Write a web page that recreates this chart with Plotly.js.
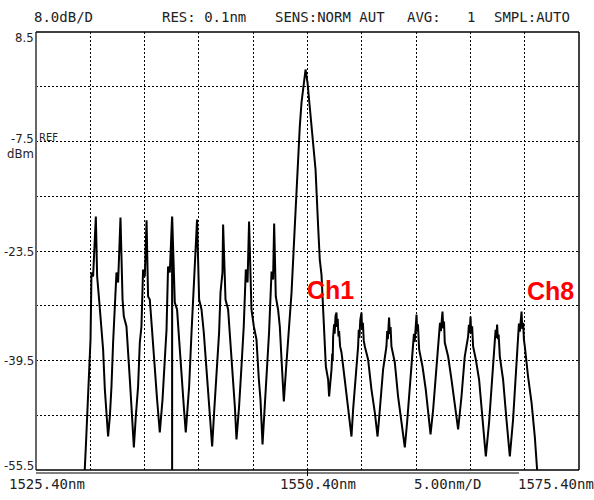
<!DOCTYPE html>
<html>
<head>
<meta charset="utf-8">
<script src="https://cdn.plot.ly/plotly-3.0.1.min.js"></script>
<style>
  html, body { margin: 0; padding: 0; background: #fff; }
  #chart { width: 594px; height: 500px; }
</style>
</head>
<body>
<div id="chart"></div>
<script>
const wavelength_nm = [
  1529.80, 1529.89, 1529.99, 1530.11, 1530.29, 1530.42, 1530.51, 1530.66, 1530.91, 1531.03,
  1531.21, 1531.43, 1531.58, 1531.74, 1531.89, 1532.04, 1532.20, 1532.35, 1532.50, 1532.66,
  1532.81, 1532.96, 1533.18, 1533.37, 1533.49, 1533.73, 1533.88, 1534.04, 1534.19, 1534.41,
  1534.59, 1534.80, 1534.96, 1535.11, 1535.26, 1535.42, 1535.58, 1535.72, 1535.88, 1536.13,
  1536.34, 1536.55, 1536.80, 1537.05, 1537.26, 1537.42, 1537.56, 1537.72, 1537.93, 1537.935,
  1537.94, 1538.18, 1538.39, 1538.58, 1538.80, 1539.01, 1539.19, 1539.31, 1539.50, 1539.72,
  1539.87, 1540.02, 1540.23, 1540.42, 1540.64, 1540.85, 1541.10, 1541.34, 1541.62, 1541.80,
  1542.02, 1542.26, 1542.39, 1542.57, 1542.63, 1542.85, 1543.09, 1543.31, 1543.49, 1543.71,
  1543.86, 1544.10, 1544.32, 1544.53, 1544.72, 1544.88, 1545.02, 1545.24, 1545.46, 1545.70,
  1545.92, 1546.07, 1546.26, 1546.47, 1546.68, 1546.86, 1547.09, 1547.23, 1547.33, 1547.48,
  1547.69, 1547.85, 1548.01, 1548.22, 1548.40, 1548.61, 1548.93, 1549.23, 1549.44, 1549.69,
  1549.85, 1550.06, 1550.22, 1550.40, 1550.61, 1550.92, 1551.14, 1551.38, 1551.53, 1551.69,
  1551.84, 1552.09, 1552.30, 1552.39, 1552.61, 1552.68, 1552.72, 1552.76, 1552.85, 1552.90,
  1552.98, 1553.07, 1553.12, 1553.18, 1553.25, 1553.31, 1553.40, 1553.53, 1553.83, 1554.14,
  1554.45, 1554.60, 1554.85, 1555.06, 1555.12, 1555.18, 1555.26, 1555.37, 1555.43, 1555.50,
  1555.58, 1555.68, 1555.98, 1556.29, 1556.60, 1556.85, 1557.06, 1557.36, 1557.67, 1557.74,
  1557.80, 1557.86, 1557.91, 1557.98, 1558.05, 1558.13, 1558.44, 1558.74, 1559.06, 1559.36,
  1559.57, 1559.82, 1560.12, 1560.20, 1560.27, 1560.35, 1560.44, 1560.50, 1560.57, 1560.68,
  1560.99, 1561.29, 1561.51, 1561.73, 1561.97, 1562.28, 1562.52, 1562.60, 1562.68, 1562.76,
  1562.83, 1562.90, 1562.97, 1563.04, 1563.35, 1563.66, 1563.96, 1564.27, 1564.58, 1564.88,
  1565.19, 1565.26, 1565.33, 1565.41, 1565.48, 1565.56, 1565.65, 1565.90, 1566.20, 1566.51,
  1566.82, 1567.12, 1567.44, 1567.65, 1567.72, 1567.79, 1567.86, 1567.93, 1568.00, 1568.11,
  1568.41, 1568.72, 1569.03, 1569.33, 1569.58, 1569.79, 1569.87, 1569.95, 1570.03, 1570.11,
  1570.18, 1570.26, 1570.33, 1570.41, 1570.71, 1571.03, 1571.33, 1571.54, 1571.61
];
const power_dBm = [
  -57.0, -55.4, -52.07, -47.68, -38.92, -36.43, -26.64, -27.23, -18.46, -27.23,
  -30.59, -34.53, -37.89, -43.74, -47.68, -50.61, -47.68, -43.30, -36.87, -30.59,
  -26.64, -28.10, -18.61, -30.59, -33.07, -34.53, -39.35, -42.28, -46.22, -52.21,
  -47.68, -43.30, -36.87, -34.53, -26.20, -27.23, -19.00, -30.15, -30.59, -36.43,
  -41.25, -45.20, -50.02, -45.20, -39.35, -34.97, -25.77, -26.64, -18.46, -57.0,
  -18.46, -31.03, -32.05, -36.43, -42.28, -46.22, -50.02, -47.10, -43.30, -35.41,
  -30.59, -26.64, -18.90, -30.59, -32.05, -35.41, -41.25, -46.22, -52.07, -47.10,
  -41.25, -35.41, -29.56, -26.64, -19.63, -30.59, -32.05, -36.87, -42.28, -46.22,
  -51.04, -46.22, -40.38, -34.53, -26.20, -28.10, -19.19, -32.05, -34.53, -36.43,
  -42.28, -45.20, -51.77, -46.22, -40.38, -35.41, -26.50, -27.66, -19.48, -30.15,
  -32.05, -34.53, -39.35, -45.49, -41.25, -37.00, -29.56, -19.92, -12.61, -5.31,
  -1.80, 1.56, 3.02, 1.12, -2.82, -7.65, -11.59, -19.92, -24.74, -27.00,
  -32.05, -40.38, -42.28, -44.76, -40.82, -38.50, -39.60, -35.99, -34.20, -35.60,
  -33.00, -32.49, -34.60, -33.40, -36.00, -35.20, -37.40, -38.33, -42.28, -46.66,
  -50.61, -46.66, -42.28, -37.45, -35.00, -36.20, -33.60, -32.49, -35.00, -34.00,
  -36.60, -37.45, -39.35, -43.74, -47.10, -50.61, -46.66, -40.82, -37.45, -35.20,
  -36.40, -34.00, -33.22, -35.60, -34.60, -37.45, -39.79, -44.76, -48.56, -52.21,
  -48.56, -43.30, -38.33, -35.60, -36.80, -33.90, -32.78, -35.30, -34.20, -37.89,
  -40.38, -43.74, -46.66, -50.31, -46.66, -40.82, -35.99, -34.00, -35.20, -32.90,
  -32.34, -34.80, -33.80, -36.87, -38.92, -42.28, -46.22, -49.58, -44.76, -38.92,
  -35.99, -34.30, -35.50, -33.07, -35.60, -34.50, -37.45, -39.35, -42.28, -47.68,
  -53.53, -48.56, -41.84, -35.99, -35.00, -36.20, -34.24, -36.40, -35.70, -38.92,
  -42.28, -48.12, -53.53, -48.12, -40.82, -35.99, -34.10, -35.30, -33.00, -32.34,
  -34.90, -34.00, -36.50, -37.45, -41.84, -45.64, -50.61, -55.43, -57.0
];

// Axis scale (from screen: 8.0 dB/D, 5.00 nm/D)
const yTickValues = [8.5, -7.5, -23.5, -39.5, -55.5];
const yTickLabels = ['8.5', '-7.5', '-23.5', '-39.5', '-55.5'];
const xLabelTexts = ['1525.40nm', '1550.40nm', '5.00nm/D', '1575.40nm'];
const headerTexts = ['8.0dB/D', 'RES: 0.1nm', 'SENS:NORM AUT', 'AVG:', '1', 'SMPL:AUTO'];
const channelLabels = ['Ch1', 'Ch8'];

// ---- Layout helpers (pixel placement) ----
const W = 594, H = 500;
const M = {l: 36, r: 15, t: 32, b: 30};
const PW = W - M.l - M.r, PH = H - M.t - M.b;
const px = x => (x - M.l) / PW;
const py = y => (H - M.b - y) / PH;

const monoFont = {family: 'DejaVu Sans Mono, monospace', size: 14, color: '#222'};
const narrowFont = {family: 'Liberation Sans Narrow, DejaVu Sans Condensed, Liberation Sans, sans-serif', size: 13, color: '#222'};

const annotations = [];
// header line
const headerX = [32, 160, 273, 405, 465, 492];
headerTexts.forEach((t, i) => annotations.push({
  text: t, xref: 'paper', yref: 'paper', x: px(headerX[i]), y: py(17),
  xanchor: 'left', yanchor: 'middle', showarrow: false, font: monoFont
}));
// y tick labels
const yShift = [-5, 3, 0, 0, 5];
yTickLabels.forEach((t, i) => annotations.push({
  text: t, xref: 'paper', yref: 'y', x: px(35.5), y: yTickValues[i], yshift: yShift[i],
  xanchor: 'right', yanchor: 'middle', showarrow: false, font: narrowFont
}));
annotations.push({text: 'REF', xref: 'paper', yref: 'y', x: px(37), y: -7.5, yshift: 4,
  xanchor: 'left', yanchor: 'middle', showarrow: false,
  font: {family: narrowFont.family, size: 11, color: '#222'}});
annotations.push({text: 'dBm', xref: 'paper', yref: 'y', x: px(35.5), y: -7.5, yshift: -12,
  xanchor: 'right', yanchor: 'middle', showarrow: false, font: narrowFont});
// bottom labels
const xLabelPos = [7, 278, 412, 516];
xLabelTexts.forEach((t, i) => annotations.push({
  text: t, xref: 'paper', yref: 'paper', x: px(xLabelPos[i]), y: py(484),
  xanchor: 'left', yanchor: 'middle', showarrow: false, font: monoFont
}));
// channel labels
const chPos = [[305, 290], [525, 291]];
channelLabels.forEach((t, i) => annotations.push({
  text: '<b>' + t + '</b>', xref: 'paper', yref: 'paper', x: px(chPos[i][0]), y: py(chPos[i][1]),
  xanchor: 'left', yanchor: 'middle', showarrow: false,
  font: {family: 'Liberation Sans, Arial, sans-serif', size: 25, color: '#ff0000'}
}));

const shapes = [
  {type: 'line', xref: 'paper', yref: 'paper', x0: 0, x1: 0, y0: 0, y1: 1, line: {color: '#666', width: 2}},
  {type: 'line', xref: 'paper', yref: 'paper', x0: 0, x1: 1, y0: 1, y1: 1, line: {color: '#000', width: 1.5}},
  {type: 'line', xref: 'paper', yref: 'paper', x0: 1, x1: 1, y0: 0, y1: 1, line: {color: '#000', width: 1.5}},
  {type: 'line', xref: 'paper', yref: 'paper', x0: 0, x1: 1, y0: 0, y1: 0, line: {color: '#000', width: 1.5}},
  {type: 'line', xref: 'paper', yref: 'paper', x0: 0, x1: px(519), y0: -3 / PH, y1: -3 / PH, line: {color: '#000', width: 1}},
  {type: 'line', xref: 'x', yref: 'paper', x0: 1550.4, x1: 1550.4, y0: -6 / PH, y1: 0, line: {color: '#000', width: 1}}
];

const trace = {
  x: wavelength_nm, y: power_dBm, type: 'scatter', mode: 'lines',
  line: {color: '#000', width: 2}, hoverinfo: 'skip'
};

const layout = {
  width: W, height: H,
  margin: M,
  paper_bgcolor: '#fff', plot_bgcolor: '#fff',
  showlegend: false,
  xaxis: {
    range: [1525.4, 1575.4], tick0: 1525.4, dtick: 5, showticklabels: false, ticks: '',
    showgrid: true, gridcolor: '#000', gridwidth: 1, griddash: '2px,2px',
    zeroline: false, showline: false, fixedrange: true
  },
  yaxis: {
    range: [-55.5, 8.5], tick0: 8.5, dtick: 8, showticklabels: false, ticks: '',
    showgrid: true, gridcolor: '#000', gridwidth: 1, griddash: '2px,2px',
    zeroline: false, showline: false, fixedrange: true
  },
  annotations: annotations,
  shapes: shapes
};

Plotly.newPlot('chart', [trace], layout, {staticPlot: true, displayModeBar: false});
</script>
</body>
</html>
